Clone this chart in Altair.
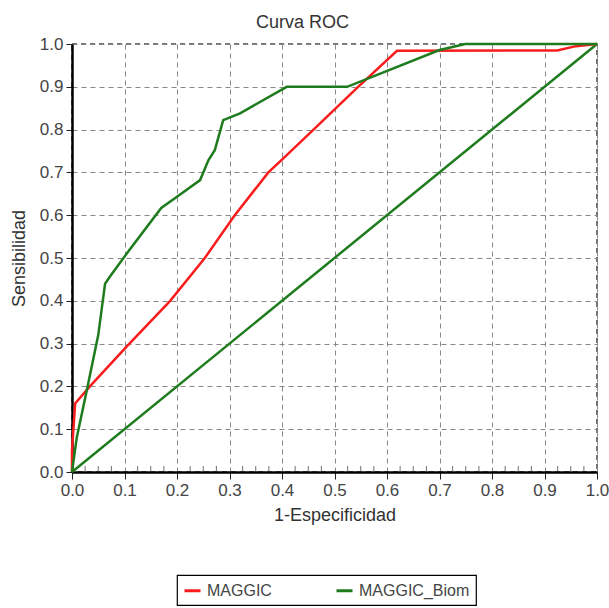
import altair as alt
import pandas as pd

# MAGGIC (red)
fpr_maggic = [0.0, 0.0, 0.006, 0.034, 0.104, 0.187, 0.253, 0.31, 0.374, 0.40, 0.46, 0.545, 0.619, 0.924, 0.96, 1.0]
tpr_maggic = [0.0, 0.05, 0.16, 0.2, 0.293, 0.40, 0.5, 0.6, 0.7, 0.73, 0.8, 0.9, 0.984, 0.985, 0.995, 1.0]
# MAGGIC_Biom (green)
fpr_biom = [0.0, 0.009, 0.028, 0.05, 0.063, 0.072, 0.11, 0.17, 0.2, 0.244, 0.26, 0.272, 0.288, 0.32, 0.409, 0.524, 0.70, 0.749, 1.0]
tpr_biom = [0.0, 0.08, 0.19, 0.32, 0.44, 0.456, 0.52, 0.617, 0.643, 0.682, 0.729, 0.752, 0.822, 0.838, 0.9, 0.9, 0.986, 1.0, 1.0]
# reference diagonal
fpr_ref = [0.0, 1.0]
tpr_ref = [0.0, 1.0]

ticks = [round(i * 0.1, 1) for i in range(11)]
minor_ticks = [round(i * 0.025, 3) for i in range(41) if i % 4 != 0]

series = ["MAGGIC", "MAGGIC_Biom"]
colors = ["#f81c1c", "#1e7b1e"]

rows = []
for i, (x, y) in enumerate(zip(fpr_maggic, tpr_maggic)):
    rows.append({"fpr": x, "tpr": y, "serie": "MAGGIC", "o": i})
for i, (x, y) in enumerate(zip(fpr_biom, tpr_biom)):
    rows.append({"fpr": x, "tpr": y, "serie": "MAGGIC_Biom", "o": i})
df = pd.DataFrame(rows)
df_ref = pd.DataFrame({"fpr": fpr_ref, "tpr": tpr_ref})
df_minor = pd.DataFrame({"fpr": minor_ticks, "tpr": [0.0] * len(minor_ticks)})

xscale = alt.Scale(domain=[0, 1], nice=False)
yscale = alt.Scale(domain=[0, 1], nice=False)

xaxis = alt.Axis(values=ticks, format=".1f", title="1-Especificidad", grid=True,
                 tickSize=7, labelPadding=3, titlePadding=8, labelFlush=False)
yaxis = alt.Axis(values=ticks, format=".1f", title="Sensibilidad", grid=True,
                 tickSize=6, labelPadding=3, titlePadding=11, labelFlush=False)

ref = alt.Chart(df_ref).mark_line(color="#1e7b1e", strokeWidth=2.5).encode(
    x=alt.X("fpr:Q", scale=xscale, axis=xaxis),
    y=alt.Y("tpr:Q", scale=yscale, axis=yaxis),
)

lines = alt.Chart(df).mark_line(strokeWidth=2.5).encode(
    x=alt.X("fpr:Q", scale=xscale),
    y=alt.Y("tpr:Q", scale=yscale),
    color=alt.Color("serie:N", scale=alt.Scale(domain=series, range=colors),
                    legend=alt.Legend(title=None)),
    order="o:Q",
)

minor = alt.Chart(df_minor).mark_tick(orient="vertical", size=6, color="#333", thickness=1, yOffset=-3).encode(
    x=alt.X("fpr:Q", scale=xscale),
    y=alt.Y("tpr:Q", scale=yscale),
)

chart = alt.layer(ref, lines, minor).properties(
    width=525, height=428,
    title=alt.TitleParams("Curva ROC", fontSize=18, font="Liberation Sans",
                          fontWeight="normal", color="#333", offset=3, dx=-32),
    autosize=alt.AutoSizeParams(type="none"),
    padding={"left": 72, "top": 44, "right": 12, "bottom": 136},
).configure_view(
    stroke="#444", strokeDash=[5, 4], strokeWidth=1.5,
).configure_axis(
    gridColor="#888", gridDash=[5, 4], gridWidth=1, gridOpacity=1,
    domainColor="#000", domainWidth=2.5, tickColor="#222",
    labelFont="Liberation Sans", labelFontSize=17, labelColor="#444",
    titleFont="Liberation Sans", titleFontSize=18, titleFontWeight="normal", titleColor="#333",
).configure_legend(
    orient="none", legendX=105, legendY=531, direction="horizontal",
    strokeColor="#000", strokeWidth=1.2, fillColor="white", padding=6,
    symbolType="stroke", symbolStrokeWidth=3, symbolSize=256, labelOffset=5,
    labelFont="Liberation Sans", labelFontSize=16, labelColor="#444",
    columnPadding=58, cornerRadius=0,
)

chart.save("out.html", embed_options={"renderer": "svg", "actions": False})
